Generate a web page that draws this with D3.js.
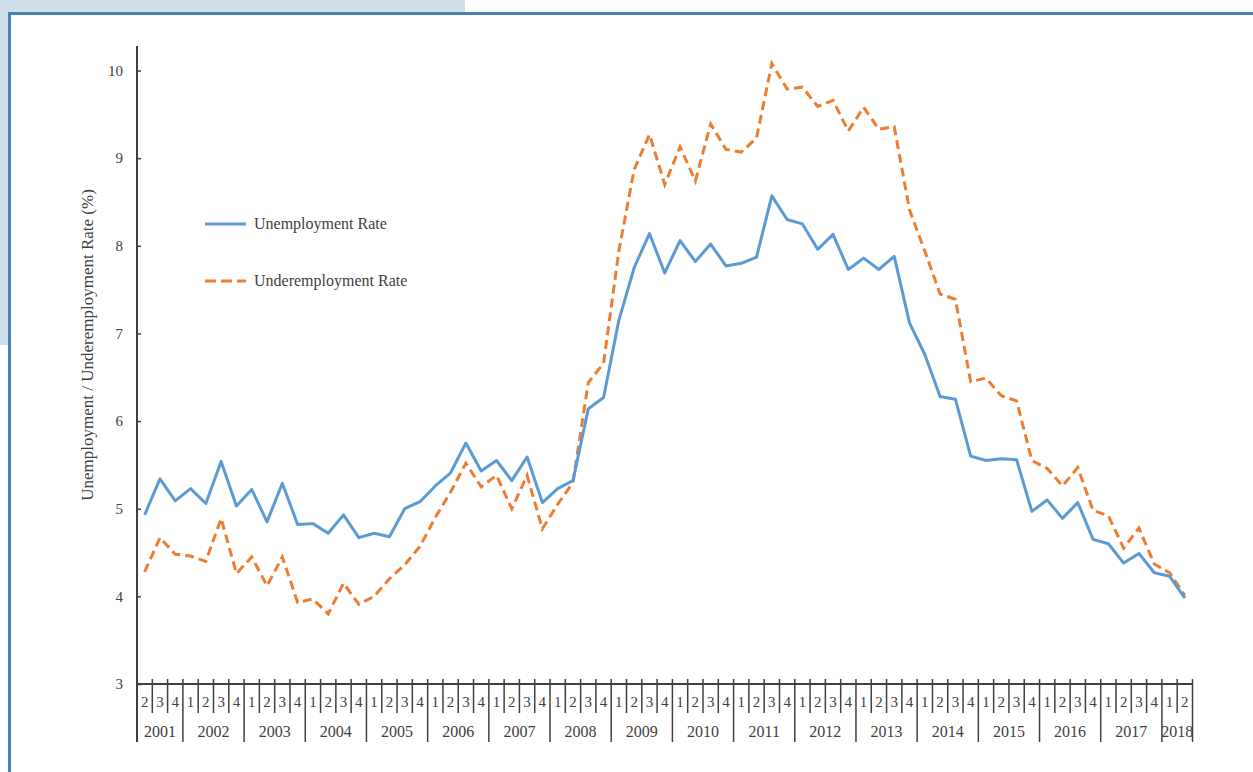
<!DOCTYPE html>
<html>
<head>
<meta charset="utf-8">
<script src="https://cdn.jsdelivr.net/npm/d3@7"></script>
<style>
  body { margin: 0; background: #fff; }
  text { font-family: "Liberation Serif", "Times New Roman", serif; fill: #404040; }
</style>
</head>
<body>
<div id="chart"></div>
<script>
// quarters shown on the axis, 2001 Q2 .. 2018 Q2
var years = ["2001","2002","2003","2004","2005","2006","2007","2008","2009",
             "2010","2011","2012","2013","2014","2015","2016","2017","2018"];
var quartersInYear = [[2,3,4],[1,2,3,4],[1,2,3,4],[1,2,3,4],[1,2,3,4],[1,2,3,4],
  [1,2,3,4],[1,2,3,4],[1,2,3,4],[1,2,3,4],[1,2,3,4],[1,2,3,4],[1,2,3,4],
  [1,2,3,4],[1,2,3,4],[1,2,3,4],[1,2,3,4],[1,2]];

var unemployment = [4.93,5.34,5.09, 5.23,5.06,5.54,5.03, 5.22,4.85,5.29,4.82,
  4.83,4.72,4.93,4.67, 4.72,4.68,5.00,5.08, 5.26,5.41,5.75,5.43, 5.55,5.32,5.59,5.07,
  5.23,5.32,6.14,6.27, 7.15,7.75,8.14,7.69, 8.06,7.82,8.02,7.77, 7.80,7.87,8.57,8.30,
  8.25,7.96,8.13,7.73, 7.86,7.73,7.88,7.12, 6.76,6.28,6.25,5.60, 5.55,5.57,5.56,4.97,
  5.10,4.89,5.07,4.65, 4.60,4.38,4.49,4.27, 4.23,3.98];

var underemployment = [4.28,4.67,4.48, 4.46,4.40,4.89,4.26, 4.45,4.12,4.45,3.93,
  3.97,3.80,4.15,3.91, 4.00,4.20,4.36,4.57, 4.90,5.19,5.52,5.25, 5.38,5.00,5.38,4.77,
  5.05,5.30,6.44,6.66, 7.94,8.87,9.27,8.70, 9.13,8.74,9.39,9.10, 9.07,9.23,10.08,9.79,
  9.81,9.59,9.66,9.31, 9.58,9.33,9.36,8.41, 7.94,7.45,7.39,6.45, 6.49,6.29,6.23,5.55,
  5.46,5.26,5.47,4.98, 4.92,4.55,4.78,4.37, 4.27,4.01];

var yTicks = [3,4,5,6,7,8,9,10];

var seriesNames = ["Unemployment Rate", "Underemployment Rate"];
var seriesColors = ["#5b9bd5", "#ed7d31"];

// flatten year / quarter into one list of periods
var periods = [];
years.forEach(function(yr, i) {
  quartersInYear[i].forEach(function(q) { periods.push({year: yr, q: q}); });
});

var W = 1253, H = 772;
var svg = d3.select("#chart").append("svg")
  .attr("width", W).attr("height", H);

// light blue page background peeking at top left + blue frame
svg.append("rect").attr("x", 0).attr("y", 0).attr("width", 465).attr("height", 13).attr("fill", "#cfe0ea");
svg.append("rect").attr("x", 0).attr("y", 0).attr("width", 9).attr("height", 345).attr("fill", "#cfe0ea");
svg.append("line").attr("x1", 8).attr("x2", W).attr("y1", 13.5).attr("y2", 13.5)
  .attr("stroke", "#4a80b8").attr("stroke-width", 3);
svg.append("line").attr("x1", 9.5).attr("x2", 9.5).attr("y1", 12).attr("y2", H)
  .attr("stroke", "#4a80b8").attr("stroke-width", 3);

var plotLeft = 137, plotRight = 1192.5, plotTop = 46, axisY = 684;

var x = d3.scaleBand()
  .domain(d3.range(periods.length))
  .range([plotLeft, plotRight])
  .padding(0);

var y = d3.scaleLinear()
  .domain([3, 10.28])
  .range([axisY, plotTop]);

var axisColor = "#404040";

// y axis
var yAxis = svg.append("g")
  .attr("transform", "translate(" + plotLeft + ",0)")
  .call(d3.axisRight(y).tickValues(yTicks).tickSize(4).tickFormat(d3.format("d")));
yAxis.select(".domain").remove();
yAxis.selectAll(".tick line").attr("stroke", axisColor).attr("stroke-width", 1.5);
yAxis.selectAll(".tick text")
  .attr("x", -14).attr("text-anchor", "end")
  .style("font-family", "Liberation Serif").style("font-size", "15px").attr("fill", axisColor);
svg.append("line")
  .attr("x1", plotLeft).attr("x2", plotLeft).attr("y1", plotTop).attr("y2", 742)
  .attr("stroke", axisColor).attr("stroke-width", 2);

// y axis title
svg.append("text")
  .attr("transform", "translate(93,345) rotate(-90)")
  .attr("text-anchor", "middle")
  .style("font-size", "17px")
  .text("Unemployment / Underemployment Rate (%)");

// x axis: quarter row and year row
svg.append("line")
  .attr("x1", plotLeft).attr("x2", plotRight).attr("y1", axisY).attr("y2", axisY)
  .attr("stroke", axisColor).attr("stroke-width", 2);

var bw = x.bandwidth();
svg.append("g").selectAll("line")
  .data(d3.range(1, periods.length + 1))
  .enter().append("line")
    .attr("x1", function(i) { return x(i - 1) + bw; })
    .attr("x2", function(i) { return x(i - 1) + bw; })
    .attr("y1", axisY - 5)
    .attr("y2", function(i) {
      return (i === periods.length || periods[i].q === 1) ? 742 : 713;
    })
    .attr("stroke", axisColor).attr("stroke-width", 1.5);

svg.append("g").selectAll("text")
  .data(periods)
  .enter().append("text")
    .attr("x", function(d, i) { return x(i) + bw / 2; })
    .attr("y", 707)
    .attr("text-anchor", "middle")
    .style("font-size", "15px")
    .text(function(d) { return d.q; });

var startIdx = 0;
var yearPos = years.map(function(yr, i) {
  var n = quartersInYear[i].length;
  var s = startIdx; startIdx += n;
  return {year: yr, x: x(s) + n * bw / 2};
});
svg.append("g").selectAll("text")
  .data(yearPos)
  .enter().append("text")
    .attr("x", function(d) { return d.x; })
    .attr("y", 737)
    .attr("text-anchor", "middle")
    .style("font-size", "16px")
    .text(function(d) { return d.year; });

// lines
var line = d3.line()
  .x(function(d, i) { return x(i) + bw / 2; })
  .y(function(d) { return y(d); });

svg.append("path")
  .datum(underemployment)
  .attr("d", line)
  .attr("fill", "none")
  .attr("stroke", seriesColors[1])
  .attr("stroke-width", 3)
  .attr("stroke-dasharray", "9,5");

svg.append("path")
  .datum(unemployment)
  .attr("d", line)
  .attr("fill", "none")
  .attr("stroke", seriesColors[0])
  .attr("stroke-width", 3)
  .attr("stroke-linejoin", "round");

// legend
var legend = svg.append("g");
[224, 281].forEach(function(ly, i) {
  legend.append("line")
    .attr("x1", 205).attr("x2", 246).attr("y1", ly).attr("y2", ly)
    .attr("stroke", seriesColors[i]).attr("stroke-width", 3)
    .attr("stroke-dasharray", i === 1 ? "11,5" : null);
  legend.append("text")
    .attr("x", 254).attr("y", ly + 5)
    .style("font-size", "16px")
    .text(seriesNames[i]);
});
</script>
</body>
</html>
